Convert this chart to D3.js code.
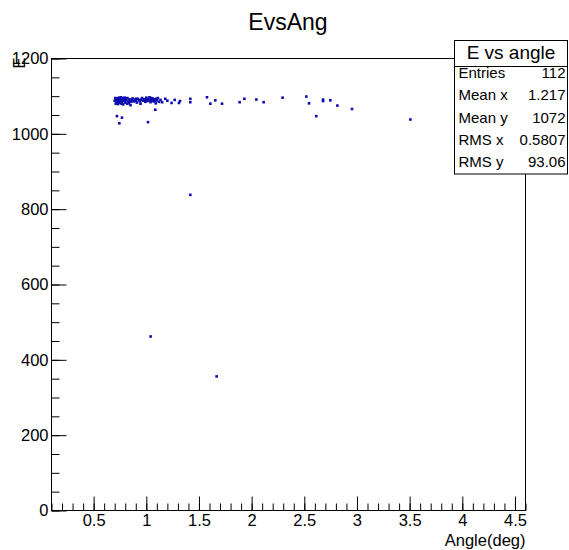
<!DOCTYPE html>
<head>
    <meta charset="utf-8">
    <title>EvsAng</title>
    <script src="https://d3js.org/d3.v7.min.js"></script>
    <style>
        body { margin: 0; background: #fff; }
        svg { font-family: "Liberation Sans", Arial, sans-serif; }
        .frame { fill: none; stroke: #000; stroke-width: 1; }
    </style>
</head>
<body>
<svg id="chart" width="569" height="550"></svg>
<script>
// angle (deg) and energy for each entry
var angles = [
    0.70, 0.71, 0.71, 0.72, 0.72, 0.73, 0.73, 0.74, 0.74, 0.75, 0.75, 0.76, 0.76, 0.77, 0.77, 0.78, 0.78, 0.79, 0.80, 0.80,
    0.81, 0.82, 0.82, 0.83, 0.84, 0.85, 0.85, 0.86, 0.87, 0.88, 0.89, 0.90, 0.91, 0.92, 0.93, 0.94, 0.95,
    0.96, 0.97, 0.98, 0.99, 1.00, 1.00, 1.01, 1.02, 1.03, 1.03, 1.04, 1.05, 1.05, 1.06, 1.07, 1.08, 1.09, 1.10, 1.11, 1.12,
    0.705, 0.715, 0.725, 0.735, 0.745, 0.755, 0.765, 0.785, 0.795, 0.835, 0.865, 0.905, 0.945, 0.985, 1.015, 1.045, 1.065, 1.085, 1.095, 1.135,
    1.15, 1.18, 1.20, 1.24, 1.27, 1.31, 1.32,
    0.721, 0.769, 0.744, 1.016, 1.085,
    1.418, 1.418, 1.576, 1.608, 1.655, 1.719, 1.886, 1.931, 2.045, 2.114, 2.294, 2.519, 2.545, 2.678, 2.678, 2.747, 2.814, 2.614, 2.953, 3.507,
    1.418, 1.041, 1.668
];
var energies = [
    1088, 1080, 1092, 1085, 1094, 1079, 1090, 1087, 1096, 1082, 1093, 1089, 1097, 1084, 1091, 1095, 1078, 1088, 1092, 1083,
    1089, 1095, 1080, 1087, 1092, 1085, 1076, 1090, 1094, 1086, 1091, 1088, 1083, 1093, 1089, 1086, 1091,
    1095, 1088, 1092, 1085, 1090, 1096, 1087, 1093, 1089, 1097, 1084, 1091, 1088, 1094, 1086, 1092, 1081, 1089, 1095, 1085,
    1095, 1086, 1090, 1083, 1091, 1087, 1080, 1090, 1096, 1082, 1087, 1093, 1080, 1089, 1091, 1095, 1089, 1087, 1093, 1090,
    1084, 1093, 1088, 1082, 1090, 1082, 1087,
    1047, 1043, 1028, 1031, 1064,
    1093, 1084, 1097, 1080, 1089, 1080, 1084, 1093, 1091, 1084, 1096, 1099, 1081, 1091, 1087, 1089, 1075, 1047, 1066, 1038,
    838, 462, 356
];
var xTicks = [0.5, 1, 1.5, 2, 2.5, 3, 3.5, 4, 4.5];
var yTicks = [0, 200, 400, 600, 800, 1000, 1200];
var statLabels = ["Entries", "Mean x", "Mean y", "RMS x", "RMS y"];
var statValues = ["112", "1.217", "1072", "0.5807", "93.06"];

var svg = d3.select("#chart");
var pLeft = 51.5, pRight = 525.5, pTop = 58.5, pBottom = 510.5;

var x = d3.scaleLinear().domain([0.1, 4.6]).range([pLeft, pRight]);
var y = d3.scaleLinear().domain([0, 1200]).range([pBottom, pTop]);

// title
svg.append("text").attr("x", 288).attr("y", 30).attr("text-anchor", "middle")
    .style("font-size", "23px").text("EvsAng");

// points
var pts = angles.map(function(a, i) { return { a: a, e: energies[i] }; });
svg.append("g").selectAll("rect").data(pts).enter().append("rect")
    .attr("x", function(d) { return x(d.a) - 1.3; })
    .attr("y", function(d) { return y(d.e) - 1.3; })
    .attr("width", 2.6).attr("height", 2.6)
    .attr("fill", "#0c0cb0");

// axes with inward ticks
var xMinor = d3.range(1, 47).map(function(i) { return i / 10; });
svg.append("g").attr("transform", "translate(0," + pBottom + ")")
    .call(d3.axisBottom(x).tickValues(xMinor).tickSize(-7).tickFormat(""))
    .call(function(g) { g.select(".domain").remove(); });
svg.append("g").attr("transform", "translate(0," + pBottom + ")")
    .call(d3.axisBottom(x).tickValues(xTicks).tickSize(-14).tickPadding(4).tickFormat(d3.format("")))
    .call(function(g) {
        g.select(".domain").remove();
        g.selectAll("text").style("font-size", "16.5px").attr("font-family", null);
    });

var yMinor = d3.range(0, 25).map(function(i) { return i * 50; });
svg.append("g").attr("transform", "translate(" + pLeft + ",0)")
    .call(d3.axisLeft(y).tickValues(yMinor).tickSize(-8).tickFormat(""))
    .call(function(g) { g.select(".domain").remove(); });
svg.append("g").attr("transform", "translate(" + pLeft + ",0)")
    .call(d3.axisLeft(y).tickValues(yTicks).tickSize(-15).tickPadding(3).tickFormat(d3.format("")))
    .call(function(g) {
        g.select(".domain").remove();
        g.selectAll("text").style("font-size", "16.5px").attr("font-family", null);
    });

svg.append("rect").attr("class", "frame")
    .attr("x", pLeft).attr("y", pTop).attr("width", pRight - pLeft).attr("height", pBottom - pTop);

// axis titles
svg.append("text").attr("x", pRight).attr("y", 546).attr("text-anchor", "end")
    .style("font-size", "16.5px").text("Angle(deg)");
svg.append("text").attr("transform", "translate(25," + (pTop - 1) + ") rotate(-90)")
    .attr("text-anchor", "end").style("font-size", "17px").text("E");

// stats box
var bx = 454.5, bw = 113, by = 40.5;
var stats = svg.append("g");
stats.append("rect").attr("x", bx).attr("y", by).attr("width", bw).attr("height", 133.5)
    .attr("fill", "#fff").attr("stroke", "#000");
stats.append("line").attr("x1", bx).attr("x2", bx + bw).attr("y1", 66.5).attr("y2", 66.5).attr("stroke", "#000");
stats.append("text").attr("x", bx + bw / 2).attr("y", 59).attr("text-anchor", "middle")
    .style("font-size", "19px").text("E vs angle");
statLabels.forEach(function(l, i) {
    var yy = 78 + i * 22.3;
    stats.append("text").attr("x", bx + 4).attr("y", yy).style("font-size", "15px").text(l);
    stats.append("text").attr("x", bx + bw - 2).attr("y", yy).attr("text-anchor", "end")
        .style("font-size", "15px").text(statValues[i]);
});
</script>
</body>
